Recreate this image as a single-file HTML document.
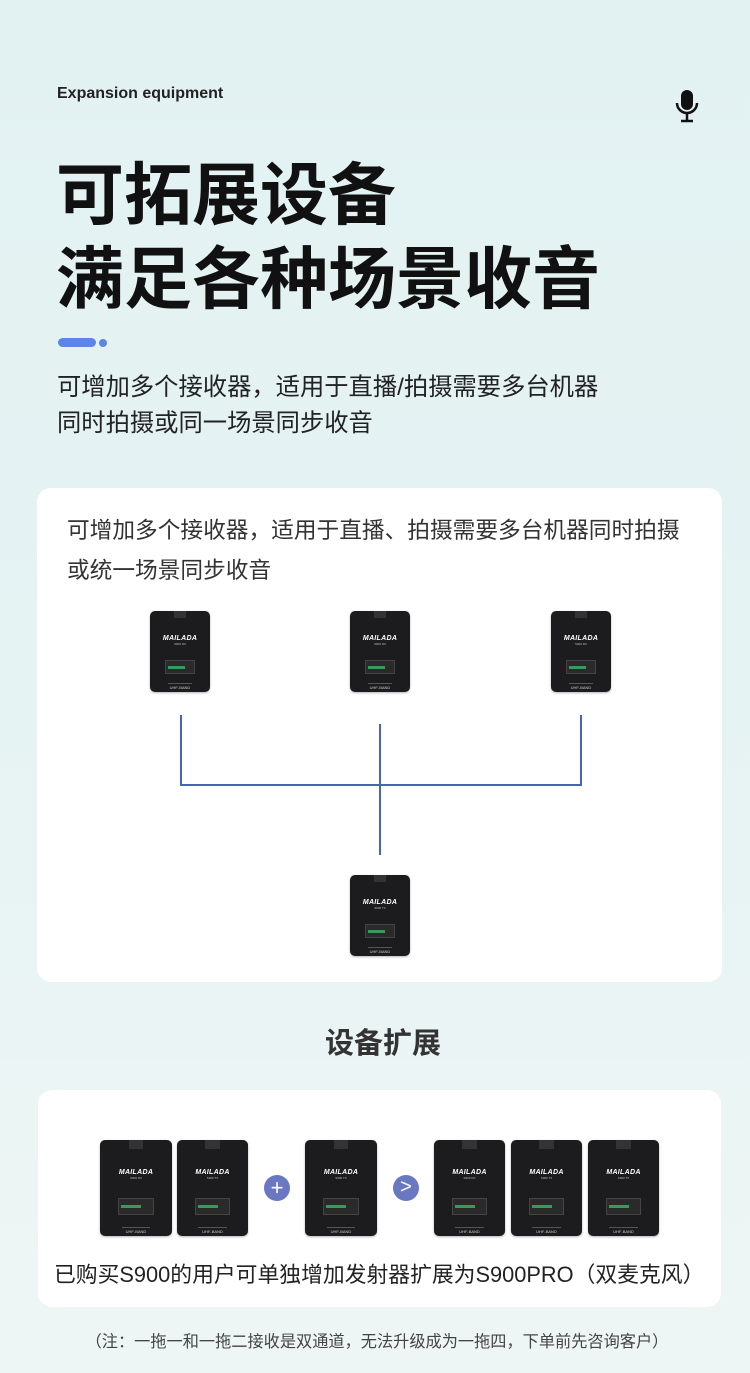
<!DOCTYPE html>
<html><head><meta charset="utf-8"><style>
*{margin:0;padding:0;box-sizing:border-box}
body{width:750px;height:1373px;position:relative;overflow:hidden;font-family:"Liberation Sans","Noto Sans CJK SC",sans-serif;background:linear-gradient(#e2f1f2 0%,#e6f3f3 50%,#eef6f5 100%);color:#111}
.a{position:absolute;white-space:nowrap}
.card{position:absolute;background:#fff;border-radius:14px}
.dev{position:absolute;background:#1c1c1e;border-radius:5px;overflow:hidden;box-shadow:0 1px 2px rgba(0,0,0,.3)}
.dev .logo{position:absolute;left:0;right:0;top:30%;text-align:center;color:#fff;font-weight:bold;font-style:italic;font-size:7px;letter-spacing:.3px}
.dev .m{position:absolute;left:0;right:0;top:38%;text-align:center;color:#bbb;font-size:3px}
.dev .scr{position:absolute;left:25%;width:50%;top:60%;height:18%;background:#2a2a2a;border:1px solid #444}
.dev .scr:before{content:"";position:absolute;left:2px;top:45%;width:60%;height:3px;background:#3a9a5a}
.dev .band{position:absolute;left:30%;width:40%;bottom:2px;height:7px;border-top:1px solid #555;color:#ccc;font-size:4px;text-align:center;line-height:7px}
.dev .top{position:absolute;left:40%;width:20%;top:0;height:9%;background:#333}
.ln{position:absolute;background:#4566b0}
</style></head><body>
<div class="a" style="left:57px;top:85px;font-size:16px;font-weight:bold;color:#222">Expansion equipment</div>
<svg class="a" style="left:674px;top:88px" width="26" height="36" viewBox="0 0 26 36"><rect x="7" y="2" width="12" height="20" rx="6" fill="#111"/><path d="M3 15 a10 10 0 0 0 20 0" fill="none" stroke="#111" stroke-width="2.5"/><line x1="13" y1="25" x2="13" y2="32" stroke="#111" stroke-width="2.5"/><line x1="7" y1="33" x2="19" y2="33" stroke="#111" stroke-width="2.5"/></svg>
<div class="a" style="left:56px;top:154px;font-size:68px;font-weight:bold;line-height:84px">可拓展设备<br>满足各种场景收音</div>
<div class="a" style="left:58px;top:338px;width:38px;height:9px;border-radius:5px;background:#5b86e6"></div>
<div class="a" style="left:99px;top:339px;width:8px;height:8px;border-radius:50%;background:#5b86e6"></div>
<div class="a" style="left:57px;top:370px;font-size:24.3px;line-height:36px;color:#222">可增加多个接收器，适用于直播/拍摄需要多台机器<br>同时拍摄或同一场景同步收音</div>

<div class="card" style="left:37px;top:488px;width:685px;height:494px"></div>
<div class="a" style="left:67px;top:510px;font-size:22.7px;line-height:40px;color:#333">可增加多个接收器，适用于直播、拍摄需要多台机器同时拍摄<br>或统一场景同步收音</div>
<div class="dev" style="left:150px;top:611px;width:60px;height:81px"><div class="top"></div><div class="logo">MAILADA</div><div class="m">S900 RX</div><div class="scr"></div><div class="band">UHF-BAND</div></div>
<div class="dev" style="left:350px;top:611px;width:60px;height:81px"><div class="top"></div><div class="logo">MAILADA</div><div class="m">S900 RX</div><div class="scr"></div><div class="band">UHF-BAND</div></div>
<div class="dev" style="left:551px;top:611px;width:60px;height:81px"><div class="top"></div><div class="logo">MAILADA</div><div class="m">S900 RX</div><div class="scr"></div><div class="band">UHF-BAND</div></div>
<div class="dev" style="left:350px;top:875px;width:60px;height:81px"><div class="top"></div><div class="logo">MAILADA</div><div class="m">S900 TX</div><div class="scr"></div><div class="band">UHF-BAND</div></div>
<div class="ln" style="left:180px;top:715px;width:2px;height:71px"></div>
<div class="ln" style="left:580px;top:715px;width:2px;height:71px"></div>
<div class="ln" style="left:180px;top:784px;width:402px;height:2px"></div>
<div class="ln" style="left:379px;top:724px;width:2px;height:131px"></div>

<div class="a" style="left:0;width:766px;text-align:center;top:1020px;font-size:29px;font-weight:bold;color:#333">设备扩展</div>
<div class="card" style="left:38px;top:1090px;width:683px;height:217px"></div>
<div class="dev" style="left:100px;top:1140px;width:72px;height:96px"><div class="top"></div><div class="logo">MAILADA</div><div class="m">S900 RX</div><div class="scr"></div><div class="band">UHF-BAND</div></div>
<div class="dev" style="left:177px;top:1140px;width:71px;height:96px"><div class="top"></div><div class="logo">MAILADA</div><div class="m">S900 TX</div><div class="scr"></div><div class="band">UHF-BAND</div></div>
<div class="dev" style="left:305px;top:1140px;width:72px;height:96px"><div class="top"></div><div class="logo">MAILADA</div><div class="m">S900 TX</div><div class="scr"></div><div class="band">UHF-BAND</div></div>
<div class="dev" style="left:434px;top:1140px;width:71px;height:96px"><div class="top"></div><div class="logo">MAILADA</div><div class="m">S900 RX</div><div class="scr"></div><div class="band">UHF-BAND</div></div>
<div class="dev" style="left:511px;top:1140px;width:71px;height:96px"><div class="top"></div><div class="logo">MAILADA</div><div class="m">S900 TX</div><div class="scr"></div><div class="band">UHF-BAND</div></div>
<div class="dev" style="left:588px;top:1140px;width:71px;height:96px"><div class="top"></div><div class="logo">MAILADA</div><div class="m">S900 TX</div><div class="scr"></div><div class="band">UHF-BAND</div></div>
<div class="a" style="left:264px;top:1175px;width:26px;height:26px;border-radius:50%;background:#6a78c2;color:#fff;font-size:22px;line-height:25px;text-align:center">+</div>
<div class="a" style="left:393px;top:1175px;width:26px;height:26px;border-radius:50%;background:#6a78c2;color:#fff;font-size:20px;line-height:25px;text-align:center">&gt;</div>
<div class="a" style="left:54px;top:1258px;font-size:21.8px;color:#222">已购买S900的用户可单独增加发射器扩展为S900PRO（双麦克风）</div>
<div class="a" style="left:0;width:754px;text-align:center;top:1328px;font-size:16.2px;color:#444">（注：一拖一和一拖二接收是双通道，无法升级成为一拖四，下单前先咨询客户）</div>
</body></html>
